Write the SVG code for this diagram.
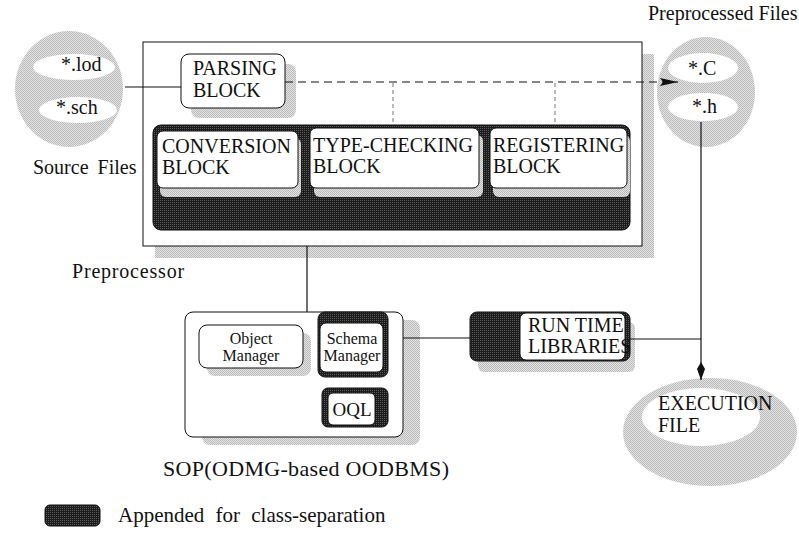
<svg xmlns="http://www.w3.org/2000/svg" width="799" height="536" viewBox="0 0 799 536" font-family="'Liberation Serif', 'DejaVu Serif', serif">
  <style>
    text { font-family: 'Liberation Serif', 'DejaVu Serif', serif; font-size: 20px; fill: #111; }
    .small { font-size: 16px; }
    .big { font-size: 22px; }
    .legend-text { font-size: 21px; word-spacing: 6px; }
    .oql { font-size: 19px; }
    .box { fill: #fff; stroke: #111; stroke-width: 1; }
    .shadow { fill: url(#lightDither); }
    .dark { fill: url(#darkDither); stroke: #111; stroke-width: 1; }
    .wire { fill: none; stroke: #111; stroke-width: 1.2; }
    .dash { fill: none; stroke: #111; stroke-width: 1.2; stroke-dasharray: 8 5; }
    .dot { fill: none; stroke: #777; stroke-width: 1; stroke-dasharray: 4 3; }
  </style>
  <defs>
    <pattern id="lightDither" width="2" height="2" patternUnits="userSpaceOnUse">
      <rect width="2" height="2" fill="#e4e4e4"/>
      <rect width="1" height="1" fill="#bababa"/>
      <rect x="1" y="1" width="1" height="1" fill="#bababa"/>
    </pattern>
    <pattern id="darkDither" width="2" height="2" patternUnits="userSpaceOnUse">
      <rect width="2" height="2" fill="#1c1c1c"/>
      <rect width="1" height="1" fill="#5a5a5a"/>
    </pattern>
    <marker id="arrowRight" viewBox="0 0 18 10" refX="18" refY="5" markerWidth="18" markerHeight="10" markerUnits="userSpaceOnUse" orient="auto">
      <path d="M0,1 L18,5 L0,9 L3,5 Z" fill="#111"/>
    </marker>
    <marker id="arrowDown" viewBox="0 0 18 10" refX="18" refY="5" markerWidth="18" markerHeight="10" markerUnits="userSpaceOnUse" orient="auto">
      <path d="M0,5 L7,1 L18,5 L7,9 Z" fill="#111"/>
    </marker>
  </defs>

  <rect width="799" height="536" fill="#fff"/>

  <!-- source files -->
  <g id="source-files">
    <ellipse cx="69" cy="89" rx="54" ry="58" class="shadow"/>
    <ellipse cx="74" cy="67" rx="41" ry="13" fill="#fff"/>
    <ellipse cx="78" cy="110" rx="39" ry="13" fill="#fff"/>
    <text x="61" y="71">*.lod</text>
    <text x="56" y="114">*.sch</text>
    <text x="33" y="174" word-spacing="4">Source Files</text>
  </g>

  <!-- preprocessor frame -->
  <g id="preprocessor">
    <rect x="155" y="54" width="499" height="204" class="shadow"/>
    <rect x="143" y="42" width="499" height="204" class="box"/>
    <text x="72" y="278" letter-spacing="0.8">Preprocessor</text>
  </g>

  <g id="parsing-block">
    <rect x="191" y="64" width="105" height="54" rx="8" class="shadow"/>
    <rect x="181" y="54" width="104" height="54" rx="8" class="box"/>
    <text x="193" y="75">PARSING</text>
    <text x="193" y="97">BLOCK</text>
  </g>

  <g id="class-separation-band">
    <rect x="153" y="125" width="477" height="105" rx="8" class="dark"/>
  </g>

  <g id="conversion-block">
    <rect x="160" y="138" width="141" height="59" rx="6" class="shadow"/>
    <rect x="157" y="131" width="141" height="57" rx="6" class="box"/>
    <text x="162" y="153">CONVERSION</text>
    <text x="162" y="174">BLOCK</text>
  </g>

  <g id="type-checking-block">
    <rect x="314" y="135" width="169" height="62" rx="6" class="shadow"/>
    <rect x="310" y="128" width="169" height="60" rx="6" class="box"/>
    <text x="313" y="152">TYPE-CHECKING</text>
    <text x="313" y="173">BLOCK</text>
  </g>

  <g id="registering-block">
    <rect x="493" y="135" width="137" height="62" rx="6" class="shadow"/>
    <rect x="490" y="128" width="137" height="60" rx="6" class="box"/>
    <text x="493" y="152">REGISTERING</text>
    <text x="493" y="173">BLOCK</text>
  </g>

  <!-- preprocessed files -->
  <g id="preprocessed-files">
    <ellipse cx="706" cy="92" rx="49" ry="55" class="shadow"/>
    <ellipse cx="703" cy="68" rx="35" ry="15" fill="#fff"/>
    <ellipse cx="703" cy="107" rx="35" ry="14" fill="#fff"/>
    <text x="688" y="75">*.C</text>
    <text x="692" y="113">*.h</text>
    <text x="648" y="20">Preprocessed Files</text>
  </g>

  <!-- SOP database -->
  <g id="sop">
    <rect x="202" y="320" width="218" height="125" rx="8" class="shadow"/>
    <rect x="185" y="312" width="218" height="125" rx="8" class="box"/>
    <text x="163" y="476" class="big" textLength="286" lengthAdjust="spacing">SOP(ODMG-based OODBMS)</text>
  </g>

  <g id="object-manager">
    <rect x="207" y="333" width="104" height="43" rx="8" class="shadow"/>
    <rect x="199" y="325" width="104" height="43" rx="8" class="box"/>
    <text x="251" y="344" class="small" text-anchor="middle">Object</text>
    <text x="251" y="361" class="small" text-anchor="middle">Manager</text>
  </g>

  <g id="schema-manager">
    <rect x="318" y="312" width="70" height="65" rx="7" class="dark"/>
    <rect x="320" y="323" width="63" height="49" rx="6" class="box"/>
    <text x="352" y="344" class="small" text-anchor="middle">Schema</text>
    <text x="352" y="361" class="small" text-anchor="middle">Manager</text>
  </g>

  <g id="oql">
    <rect x="322" y="388" width="66" height="39" rx="6" class="dark"/>
    <rect x="328" y="393" width="47" height="32" rx="5" class="box"/>
    <text x="352" y="416" text-anchor="middle" class="oql">OQL</text>
  </g>

  <g id="run-time-libraries">
    <rect x="478" y="322" width="157" height="50" rx="6" class="shadow"/>
    <rect x="470" y="312" width="160" height="49" rx="7" class="dark"/>
    <rect x="520" y="313" width="105" height="47" rx="6" class="box"/>
    <text x="528" y="332">RUN TIME</text>
    <text x="528" y="353">LIBRARIES</text>
  </g>

  <g id="execution-file">
    <ellipse cx="710" cy="432" rx="87" ry="54" class="shadow"/>
    <ellipse cx="701" cy="417" rx="59" ry="29" fill="#fff"/>
    <text x="658" y="410">EXECUTION</text>
    <text x="658" y="432">FILE</text>
  </g>

  <!-- connectors -->
  <g id="connectors">
    <line x1="125" y1="87" x2="181" y2="87" class="wire"/>
    <line x1="285" y1="82" x2="678" y2="82" class="dash" marker-end="url(#arrowRight)"/>
    <line x1="393" y1="83" x2="393" y2="125" class="dot"/>
    <line x1="555" y1="83" x2="555" y2="125" class="dot"/>
    <line x1="307" y1="246" x2="307" y2="312" class="wire"/>
    <line x1="403" y1="338" x2="470" y2="338" class="wire"/>
    <line x1="630" y1="339" x2="701" y2="339" class="wire"/>
    <line x1="701" y1="122" x2="701" y2="380" class="wire" marker-end="url(#arrowDown)"/>
  </g>

  <!-- legend -->
  <g id="legend">
    <rect x="45" y="505" width="55" height="21" rx="5" class="dark"/>
    <text x="118" y="522" class="legend-text">Appended for class-separation</text>
  </g>
</svg>
